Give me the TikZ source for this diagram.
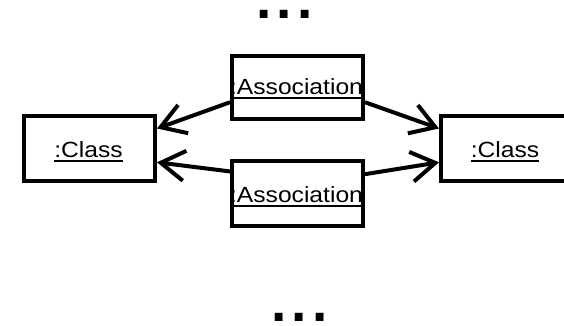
\documentclass[tikz,border=0pt]{standalone}
\usepackage{fontspec}
\usetikzlibrary{arrows.meta,calc}
% Labels are set in a slightly widened sans face
\newfontfamily\labelfont[FakeStretch=1.12]{Liberation Sans}
\newfontfamily\dotsfont{Liberation Sans}
% Underlined object name with a firm rule just below the baseline
\newcommand\ulbox[1]{\setbox0\hbox{#1}\rlap{\rule[-4.2pt]{\wd0}{1.6pt}}\box0}
\tikzset{
  objbox/.style={draw, line width=4pt, minimum width=131pt, inner sep=0pt},
  objname/.style={anchor=base, inner sep=0pt, font=\labelfont\fontsize{22}{26}\selectfont},
  compartment/.style={line width=1.6pt},
  link/.style={line width=4pt, -{Straight Barb[length=24pt, width=30pt]}},
  ellipsis/.style={anchor=base, inner sep=0pt, font=\dotsfont\bfseries\fontsize{55}{60}\selectfont}
}
\begin{document}
\begin{tikzpicture}[x=1pt, y=-1pt]
  \useasboundingbox (0,0) rectangle (564,325);
  \clip (0,0) rectangle (564,325);

  % continuation marks above and below
  \node[ellipsis] (moreTop) at (284.5,18.5) {.\kern5.5pt.\kern5.5pt.};
  \node[ellipsis] (moreBottom) at (299.5,321) {.\kern5.5pt.\kern5.5pt.};

  % the two class objects
  \node[objbox, minimum height=65pt] (classL) at (89.5,148.5) {};
  \node[objbox, minimum height=65pt] (classR) at (506.5,148.5) {};
  \node[objname] (classLname) at (88.5,157.5) {\ulbox{:Class}};
  \node[objname] (classRname) at (505,157.5) {\ulbox{:Class}};

  % the two association objects, each with an empty lower compartment
  \node[objbox, minimum height=63pt] (assocT) at (297.5,87.5) {};
  \node[objbox, minimum height=65pt] (assocB) at (297.5,193.5) {};
  \node[objname] (assocTname) at (296.5,94.6) {\ulbox{:Association}};
  \node[objname] (assocBname) at (296.5,202.9) {\ulbox{:Association}};
  \draw[compartment] ($(assocT.north west)+(2,43.7)$) -- ($(assocT.north east)+(-2,43.7)$);
  \draw[compartment] ($(assocB.north west)+(2,47)$) -- ($(assocB.north east)+(-2,47)$);

  % links from each association to both classes
  \draw[link] ($(assocT.north west)!0.72!(assocT.south west)$) -- ($(classL.north east)!0.21!(classL.south east)$);
  \draw[link] ($(assocT.north east)!0.72!(assocT.south east)$) -- ($(classR.north west)!0.21!(classR.south west)$);
  \draw[link] ($(assocB.north west)!0.18!(assocB.south west)$) -- ($(classL.north east)!0.7!(classL.south east)$);
  \draw[link] ($(assocB.north east)!0.22!(assocB.south east)$) -- ($(classR.north west)!0.7!(classR.south west)$);
\end{tikzpicture}
\end{document}
